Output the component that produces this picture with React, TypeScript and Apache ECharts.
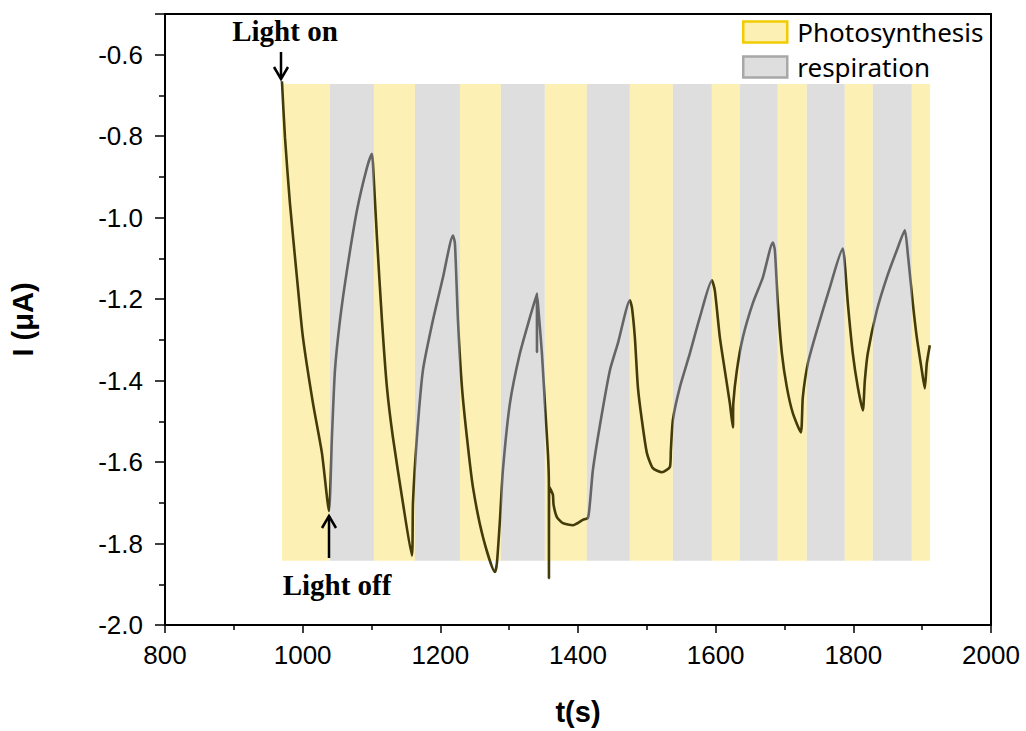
import React, { useEffect, useRef } from "react";
import * as echarts from "echarts";

// Time (s) and current (µA)
const timeS = [
  969.9, 974.3, 981.5, 991.7, 1000.4, 1015.0, 1028.0, 1038.2, 1042.5, 1046.9,
  1054.2, 1064.3, 1078.9, 1093.4, 1100.6, 1102.1, 1107.9, 1115.2, 1122.4, 1131.1,
  1145.7, 1158.7, 1160.2, 1166.0, 1174.7, 1189.2, 1203.8, 1218.3, 1221.2, 1225.6,
  1231.4, 1238.6, 1247.3, 1261.9, 1279.3, 1282.2, 1286.6, 1290.9, 1301.1, 1315.6,
  1330.1, 1340.3, 1340.4, 1340.6, 1341.7, 1347.6, 1351.9, 1356.3, 1357.7, 1357.8,
  1358.0, 1363.5, 1364.5, 1369.3, 1378.1, 1392.6, 1407.1, 1414.4, 1417.3, 1421.6,
  1431.8, 1446.3, 1458.0, 1475.4, 1478.3, 1482.6, 1487.0, 1492.8, 1500.1, 1508.8,
  1521.9, 1533.5, 1534.9, 1537.8, 1548.0, 1562.5, 1577.0, 1594.5, 1598.8, 1606.1,
  1613.3, 1620.6, 1625.0, 1625.6, 1630.8, 1639.5, 1654.0, 1668.5, 1683.1, 1686.0,
  1690.3, 1696.2, 1703.4, 1712.1, 1723.7, 1726.6, 1733.9, 1747.0, 1765.9, 1784.7,
  1787.6, 1792.0, 1799.2, 1806.5, 1813.8, 1816.7, 1821.0, 1834.1, 1848.6, 1863.2,
  1874.8, 1879.1, 1886.4, 1892.2, 1899.5, 1903.8, 1906.7, 1911.1,
];
const currentUA = [
  -0.665, -0.803, -0.965, -1.147, -1.294, -1.456, -1.578, -1.72, -1.539, -1.375,
  -1.252, -1.13, -0.982, -0.877, -0.843, -0.867, -1.049, -1.252, -1.416, -1.539,
  -1.701, -1.83, -1.701, -1.539, -1.375, -1.252, -1.147, -1.044, -1.063, -1.252,
  -1.416, -1.539, -1.661, -1.784, -1.87, -1.848, -1.742, -1.62, -1.456, -1.333,
  -1.245, -1.186, -1.33, -1.195, -1.21, -1.333, -1.456, -1.578, -1.652, -1.885,
  -1.66, -1.68, -1.705, -1.735, -1.75, -1.755, -1.742, -1.737, -1.701, -1.62,
  -1.51, -1.375, -1.308, -1.203, -1.22, -1.294, -1.416, -1.497, -1.578, -1.615,
  -1.625, -1.612, -1.571, -1.497, -1.416, -1.333, -1.245, -1.154, -1.179, -1.294,
  -1.375, -1.456, -1.515, -1.456, -1.375, -1.294, -1.21, -1.147, -1.061, -1.08,
  -1.21, -1.333, -1.416, -1.48, -1.527, -1.441, -1.358, -1.277, -1.171, -1.076,
  -1.112, -1.21, -1.333, -1.416, -1.473, -1.4, -1.333, -1.228, -1.147, -1.08,
  -1.031, -1.088, -1.21, -1.294, -1.375, -1.419, -1.358, -1.313,
];

// Light on / off period boundaries (s); periods alternate starting with light on
const bandEdges = [
  969.9, 1039.6, 1103.5, 1163.1, 1228.5, 1288.0, 1351.9, 1412.9, 1475.4,
  1537.8, 1594.5, 1635.1, 1690.3, 1732.4, 1787.6, 1828.3, 1885.0, 1911.5,
];
const bandTop = -0.672;
const bandBottom = -1.842;

const legendNames = ["Photosynthesis", "respiration"];

const xTicks = { min: 800, max: 2000, interval: 200 };
const yTicks = { min: -2.0, max: -0.5, interval: 0.2 };

const PHOTO_FILL = "#fdf0b4";
const RESP_FILL = "#dedede";
const PHOTO_LINE = "#433b0a";
const RESP_LINE = "#656565";

export default function App() {
  const ref = useRef<HTMLDivElement>(null);

  useEffect(() => {
    if (!ref.current) return;
    const chart = echarts.init(ref.current, undefined, { renderer: "svg" });

    const curve = timeS.map((t, i) => [t, currentUA[i]]);
    const areas: any[] = [];
    const pieces: any[] = [];
    for (let i = 0; i < bandEdges.length - 1; i++) {
      const photo = i % 2 === 0;
      areas.push([
        {
          xAxis: bandEdges[i],
          yAxis: bandTop,
          itemStyle: { color: photo ? PHOTO_FILL : RESP_FILL },
        },
        { xAxis: bandEdges[i + 1], yAxis: bandBottom },
      ]);
      pieces.push({
        gte: i === 0 ? 900 : bandEdges[i],
        lt: i === bandEdges.length - 2 ? 2000 : bandEdges[i + 1],
        color: photo ? PHOTO_LINE : RESP_LINE,
      });
    }

    const axisFont = {
      fontFamily: "'Liberation Sans', Arial, sans-serif",
      fontSize: 26,
      color: "#000",
    };

    chart.setOption({
      animation: false,
      backgroundColor: "#fff",
      grid: {
        left: 165,
        right: 35,
        top: 14,
        bottom: 106,
        show: true,
        borderColor: "#000",
        borderWidth: 2,
      },
      legend: {
        orient: "vertical",
        left: 737,
        top: 14,
        itemWidth: 44,
        itemHeight: 21,
        itemGap: 9,
        icon: "rect",
        selectedMode: false,
        data: [
          {
            name: legendNames[0],
            itemStyle: { color: PHOTO_FILL, borderColor: "#f2cc00", borderWidth: 2.5 },
          },
          {
            name: legendNames[1],
            itemStyle: { color: RESP_FILL, borderColor: "#a8a8a8", borderWidth: 2.5 },
          },
        ],
        textStyle: {
          fontFamily: "'Noto Sans', sans-serif",
          fontSize: 26,
          color: "#000",
          padding: [0, 0, 0, 5],
        },
      },
      xAxis: {
        type: "value",
        min: xTicks.min,
        max: xTicks.max,
        interval: xTicks.interval,
        name: "t(s)",
        nameLocation: "middle",
        nameGap: 72,
        nameTextStyle: {
          fontFamily: "'Liberation Sans', Arial, sans-serif",
          fontSize: 29,
          fontWeight: "bold",
          color: "#000",
        },
        axisLine: { lineStyle: { color: "#000", width: 2 } },
        axisTick: { length: 8, lineStyle: { color: "#000", width: 1.5 } },
        minorTick: { show: true, splitNumber: 2, length: 5, lineStyle: { color: "#000", width: 1.5 } },
        splitLine: { show: false },
        axisLabel: { ...axisFont, margin: 17, formatter: (v: number) => String(v) },
      },
      yAxis: {
        type: "value",
        min: yTicks.min,
        max: yTicks.max,
        interval: yTicks.interval,
        name: "I (μA)",
        nameLocation: "middle",
        nameGap: 128,
        nameTextStyle: {
          fontFamily: "'Liberation Sans', Arial, sans-serif",
          fontSize: 29,
          fontWeight: "bold",
          color: "#000",
        },
        axisLine: { lineStyle: { color: "#000", width: 2 } },
        axisTick: { length: 10, lineStyle: { color: "#000", width: 1.5 } },
        minorTick: { show: true, splitNumber: 2, length: 6, lineStyle: { color: "#000", width: 1.5 } },
        splitLine: { show: false },
        axisLabel: {
          ...axisFont,
          margin: 22,
          showMaxLabel: false,
          formatter: (v: number) => v.toFixed(1),
        },
      },
      visualMap: {
        show: false,
        type: "piecewise",
        dimension: 0,
        seriesIndex: 1,
        pieces,
        outOfRange: { color: RESP_LINE },
      },
      series: [
        {
          name: "bands",
          type: "line",
          data: [],
          silent: true,
          markArea: { silent: true, data: areas },
        },
        {
          name: "current",
          type: "line",
          data: curve,
          showSymbol: false,
          symbol: "none",
          smooth: 0.2,
          lineStyle: { width: 2.6 },
          z: 5,
        },
        {
          name: legendNames[0],
          type: "bar",
          data: [],
          itemStyle: { color: PHOTO_FILL, borderColor: "#f2cc00", borderWidth: 2.5 },
        },
        {
          name: legendNames[1],
          type: "bar",
          data: [],
          itemStyle: { color: RESP_FILL, borderColor: "#a8a8a8", borderWidth: 2.5 },
        },
      ],
      graphic: [
        {
          type: "text",
          x: 285,
          y: 31,
          z: 100,
          style: {
            text: "Light on",
            font: "bold 29px 'Liberation Serif', 'Times New Roman', serif",
            fill: "#000",
            textAlign: "center",
            textVerticalAlign: "middle",
          },
        },
        {
          type: "line",
          z: 100,
          shape: { x1: 281, y1: 52, x2: 281, y2: 79 },
          style: { stroke: "#000", lineWidth: 2.5 },
        },
        {
          type: "polyline",
          z: 100,
          shape: { points: [[274, 67], [281, 79], [288, 67]] },
          style: { stroke: "#000", lineWidth: 2.5, fill: null },
        },
        {
          type: "text",
          x: 337,
          y: 585,
          z: 100,
          style: {
            text: "Light off",
            font: "bold 29px 'Liberation Serif', 'Times New Roman', serif",
            fill: "#000",
            textAlign: "center",
            textVerticalAlign: "middle",
          },
        },
        {
          type: "line",
          z: 100,
          shape: { x1: 329, y1: 558, x2: 329, y2: 516 },
          style: { stroke: "#000", lineWidth: 2.5 },
        },
        {
          type: "polyline",
          z: 100,
          shape: { points: [[322, 528], [329, 516], [336, 528]] },
          style: { stroke: "#000", lineWidth: 2.5, fill: null },
        },
      ],
    });

    return () => chart.dispose();
  }, []);

  return (
    <div
      ref={ref}
      style={{ position: "absolute", left: 0, top: 0, width: 1026, height: 731 }}
    />
  );
}
